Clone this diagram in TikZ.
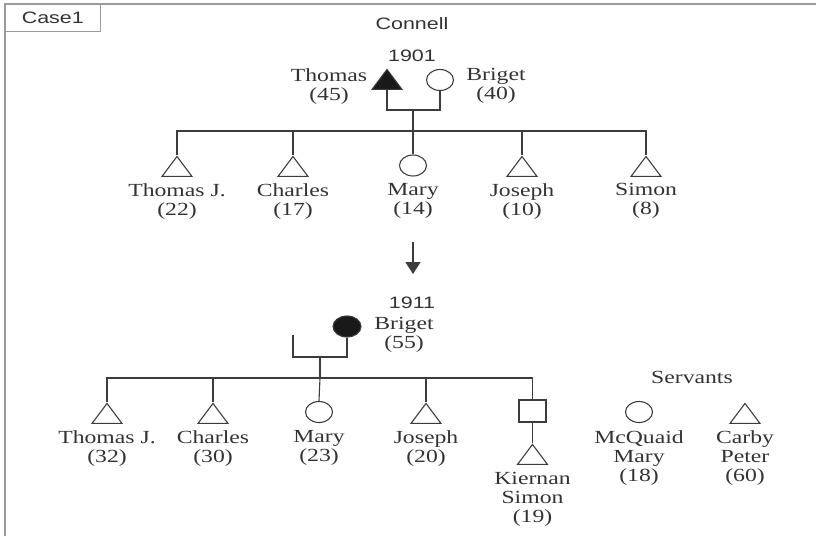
\documentclass[tikz,border=0pt]{standalone}
\usepackage{fontspec}
\setmainfont[FakeStretch=1.28]{Liberation Serif}
\newfontfamily\sansf[FakeStretch=1.3]{Liberation Sans}
\usetikzlibrary{shapes.geometric,arrows.meta}
\definecolor{ink}{HTML}{333333}
\definecolor{lineink}{HTML}{3C3C3C}
\definecolor{framegray}{HTML}{9A9A9A}
\tikzset{
  conn/.style={draw=lineink, line width=1.1pt},
  male/.style={isosceles triangle, isosceles triangle stretches, shape border rotate=90,
    minimum width=30pt, minimum height=20pt, inner sep=0pt, draw=lineink, line width=1.1pt, anchor=apex},
  female/.style={ellipse, minimum width=27pt, minimum height=21pt, inner sep=0pt, draw=lineink, line width=1.1pt},
  unknown/.style={rectangle, minimum width=27pt, minimum height=22pt, inner sep=0pt, draw=lineink, line width=1.1pt},
  dead/.style={fill=black!90},
  lbl/.style={font=\fontsize{18.5}{19}\selectfont, align=center, anchor=north, inner sep=0pt, text=ink},
  sanslbl/.style={font=\sansf\fontsize{16.5}{18}\selectfont, anchor=base, inner sep=0pt, text=ink}
}
\begin{document}
\begin{tikzpicture}[x=1pt,y=-1pt]
\useasboundingbox (0,0) rectangle (816,536);
% frame
\draw[framegray, line width=2pt] (5,536) -- (5,3.5) -- (816,3.5);
\node[draw=framegray, line width=1pt, minimum width=95.7pt, minimum height=28.2pt, inner sep=0pt,
      font=\sansf\fontsize{16.5}{18}\selectfont, text=ink] (case) at (52.8,17.6) {Case1};
\node[sanslbl] (connell) at (412,29) {Connell};
% ---------- 1901 ----------
\node[sanslbl] (y1901) at (412,61.7) {1901};
\node[male, dead] (thomas) at (387,68) {};
\node[female] (briget1) at (440,80) {};
\node[lbl] (thomasl) at (329,68) {Thomas\\(45)};
\node[lbl] (briget1l) at (496,68) {Briget\\(40)};
\coordinate (m1) at (413,110);
\coordinate (s1) at (413,131);
\draw[conn] (thomas.lower side) |- (m1) -| (briget1.south);
\draw[conn] (m1) -- (s1);
\node[male] (c11) at (177,155) {};
\node[male] (c12) at (293,155) {};
\node[female] (c13) at (413,165.5) {};
\node[male] (c14) at (522,155) {};
\node[male] (c15) at (646,155) {};
\draw[conn] (c11.apex) -- (c11.apex |- s1) -- (c15.apex |- s1) -- (c15.apex);
\draw[conn] (c12.apex) -- (c12.apex |- s1);
\draw[conn] (c14.apex) -- (c14.apex |- s1);
\draw[conn] (s1) -- (c13.north);
\node[lbl] (c11l) at (177,183.5) {Thomas J.\\(22)};
\node[lbl] (c12l) at (293,183.5) {Charles\\(17)};
\node[lbl] (c13l) at (413,183.5) {Mary\\(14)};
\node[lbl] (c14l) at (522,183.5) {Joseph\\(10)};
\node[lbl] (c15l) at (646,183.5) {Simon\\(8)};
% arrow
\coordinate (a0) at (413,242);
\coordinate (a1) at (413,274);
\draw[conn, line width=1.6pt, -{Triangle[length=12pt,width=15pt]}] (a0) -- (a1);
% ---------- 1911 ----------
\node[sanslbl] (y1911) at (412,308.5) {1911};
\node[female, dead, minimum width=28pt] (briget2) at (347,326.5) {};
\node[lbl] (briget2l) at (404,317.5) {Briget\\(55)};
\coordinate (stub) at (293,335);
\coordinate (m2) at (320,357);
\coordinate (s2) at (320,378);
\draw[conn] (stub) |- (m2) -| (briget2.south);
\draw[conn] (m2) -- (s2);
\node[male] (c21) at (107,402) {};
\node[male] (c22) at (213,402) {};
\node[female] (c23) at (319,412) {};
\node[male] (c24) at (426,402) {};
\node[unknown] (kier) at (532.5,411) {};
\node[male] (kiert) at (532.5,443) {};
\draw[conn] (c21.apex) -- (c21.apex |- s2) -- (kier.north |- s2) -- (kier.north);
\draw[conn] (c22.apex) -- (c22.apex |- s2);
\draw[conn] (c24.apex) -- (c24.apex |- s2);
\draw[conn] (s2) -- (c23.north);
\draw[conn] (kier.south) -- (kiert.apex);
\node[lbl] (c21l) at (107,430.5) {Thomas J.\\(32)};
\node[lbl] (c22l) at (213,430.5) {Charles\\(30)};
\node[lbl] (c23l) at (319,430.5) {Mary\\(23)};
\node[lbl] (c24l) at (426,430.5) {Joseph\\(20)};
\node[lbl] (kierl) at (532.5,472.5) {Kiernan\\Simon\\(19)};
% servants
\node[lbl] (serv) at (692,371.5) {Servants};
\node[female] (mcq) at (639,412) {};
\node[male] (carby) at (745,402) {};
\node[lbl] (mcql) at (639,430.5) {McQuaid\\Mary\\(18)};
\node[lbl] (carbyl) at (745,430.5) {Carby\\Peter\\(60)};
\end{tikzpicture}
\end{document}
